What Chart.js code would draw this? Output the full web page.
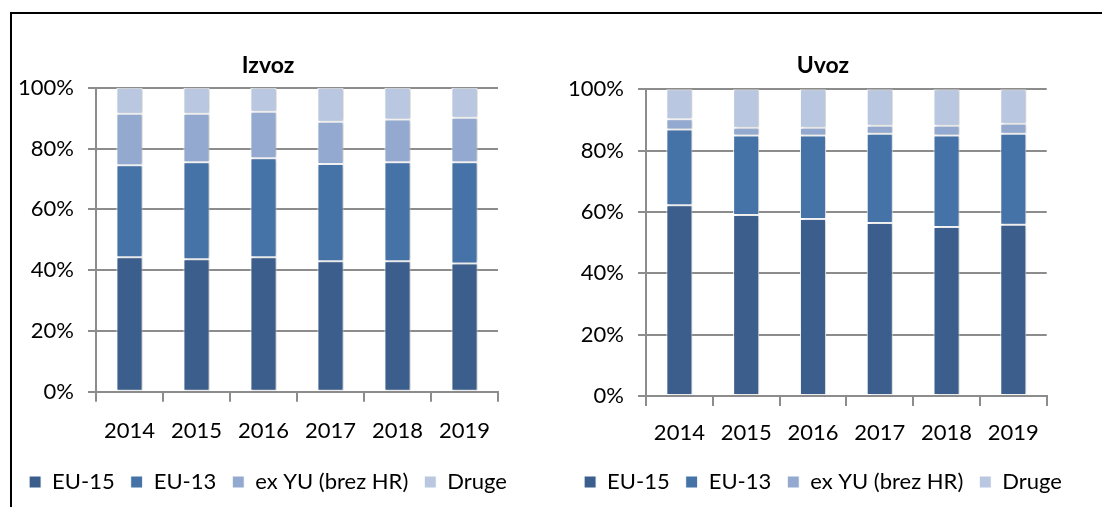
<!DOCTYPE html>
<html>
<head>
<meta charset="utf-8">
<script src="https://cdn.jsdelivr.net/npm/chart.js@4.4.1/dist/chart.umd.min.js"></script>
<style>
  html, body { margin: 0; padding: 0; background: #fff; }
  body { width: 1102px; height: 507px; position: relative; overflow: hidden; }
  #frame { position: absolute; left: 10px; top: 12px; width: 1092px; height: 495px;
           border-top: 2px solid #000; border-left: 2px solid #000; box-sizing: border-box; }
  canvas { position: absolute; top: 0; }
  #izvoz { left: -34px; }
  #uvoz { left: 521px; }
</style>
</head>
<body>
<div id="frame"></div>
<canvas id="izvoz" width="604" height="507"></canvas>
<canvas id="uvoz" width="604" height="507"></canvas>
<script>
const years = ['2014', '2015', '2016', '2017', '2018', '2019'];
const seriesNames = ['EU-15', 'EU-13', 'ex YU (brez HR)', 'Druge'];
const yTicks = [0, 20, 40, 60, 80, 100];

// Izvoz - shares in %
const izvozEU15  = [44.2, 43.6, 44.2, 42.9, 42.9, 42.2];
const izvozEU13  = [30.3, 31.9, 32.6, 32.0, 32.6, 33.3];
const izvozExYU  = [16.9, 15.9, 15.3, 13.9, 14.0, 14.6];
const izvozDruge = [8.6, 8.6, 7.9, 11.2, 10.5, 9.9];

// Uvoz - shares in %
const uvozEU15  = [62.2, 59.0, 57.7, 56.4, 55.1, 55.8];
const uvozEU13  = [24.7, 25.9, 27.2, 29.1, 29.8, 29.7];
const uvozExYU  = [3.3, 2.6, 2.6, 2.6, 3.2, 3.3];
const uvozDruge = [9.8, 12.5, 12.5, 11.9, 11.9, 11.2];

const colors = ['#3B5E8C', '#4572A7', '#93A9CF', '#BAC7E1'];
const gridColor = '#8c8c8c';

Chart.defaults.font.family = 'Lato, "Liberation Sans", sans-serif';
Chart.defaults.color = '#000';

// soft shadow behind the bars, like the office chart
const barShadow = {
  id: 'barShadow',
  beforeDatasetsDraw(chart) {
    const ctx = chart.ctx;
    ctx.save();
    ctx.shadowColor = 'rgba(0,0,0,0.22)';
    ctx.shadowBlur = 3;
    ctx.shadowOffsetX = 2;
    ctx.shadowOffsetY = 0;
  },
  afterDatasetsDraw(chart) { chart.ctx.restore(); }
};

function makeChart(id, title, series, g) {
  new Chart(document.getElementById(id).getContext('2d'), {
    type: 'bar',
    data: {
      labels: years,
      datasets: series.map((vals, i) => ({
        label: seriesNames[i], data: vals, backgroundColor: colors[i],
        borderColor: '#fff', borderWidth: 1, borderSkipped: false,
        barPercentage: 0.39, categoryPercentage: 1
      }))
    },
    options: {
      responsive: false, animation: false,
      layout: { padding: { left: 0, right: 0, top: 0, bottom: g.pb } },
      plugins: {
        title: { display: true, text: title, color: '#000', font: { size: 23, weight: 'bold' },
                 padding: { top: g.tt, bottom: g.tb } },
        legend: { position: 'bottom',
                  labels: { color: '#000', font: { size: 22 }, boxWidth: 12, boxHeight: 12, padding: 16 } },
        tooltip: { enabled: false }
      },
      scales: {
        x: {
          stacked: true,
          grid: { drawOnChartArea: false, tickLength: 10, color: gridColor, lineWidth: 2, offset: true },
          border: { color: gridColor, width: 2 },
          ticks: { color: '#000', font: { size: 22 }, padding: g.xp },
          afterFit: s => { s.height = g.xh; }
        },
        y: {
          stacked: true, min: 0, max: 100,
          grid: { color: gridColor, lineWidth: 2, tickLength: 8 },
          border: { color: gridColor, width: 2 },
          ticks: { color: '#000', font: { size: 22 }, padding: 14, callback: v => v + '%' },
          afterBuildTicks: s => { s.ticks = yTicks.map(v => ({ value: v })); },
          afterFit: s => { s.width = g.yw; }
        },
        pad: {
          type: 'linear', position: 'right',
          grid: { display: false }, border: { display: false }, ticks: { display: false },
          afterFit: s => { s.width = g.rw; }
        }
      }
    },
    plugins: [barShadow]
  });
}

// legend height = 22 + 16 + 10 = 48, text middle = top + 16 + 11
makeChart('izvoz', 'Izvoz', [izvozEU15, izvozEU13, izvozExYU, izvozDruge],
  { pb: 4, yw: 130, rw: 72, tt: 52.2, tb: 7.9, xh: 63.3, xp: 16.1 });
makeChart('uvoz', 'Uvoz', [uvozEU15, uvozEU13, uvozExYU, uvozDruge],
  { pb: 4, yw: 125, rw: 78.3, tt: 52.2, tb: 9.5, xh: 59, xp: 13.8 });
</script>
</body>
</html>
